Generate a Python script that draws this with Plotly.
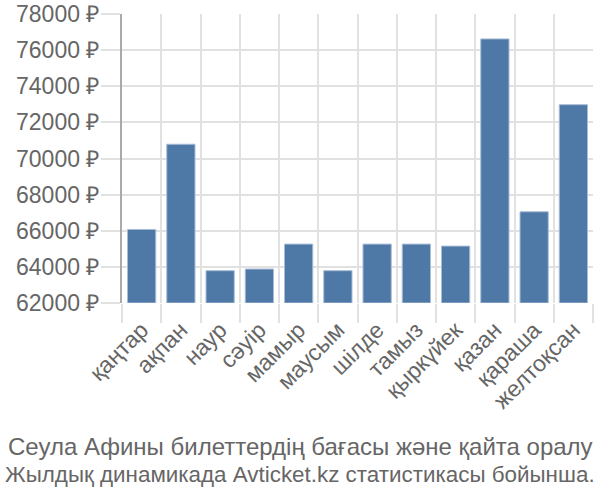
import plotly.graph_objects as go

months = ["қаңтар", "ақпан", "наур", "сәуір", "мамыр", "маусым", "шілде",
          "тамыз", "қыркүйек", "қазан", "қараша", "желтоқсан"]
prices = [66070, 70790, 63790, 63880, 65260, 63790, 65260, 65260, 65150,
          76620, 67050, 72980]
y_ticks = [62000, 64000, 66000, 68000, 70000, 72000, 74000, 76000, 78000]
y_tick_text = [f"{v} ₽" for v in y_ticks]
title_lines = ["Сеула Афины билеттердің бағасы және қайта оралу",
               "Жылдық динамикада Avticket.kz статистикасы бойынша."]

FONT = "Liberation Sans, Arial, sans-serif"
GRID = "#e1e1e1"
TXT = "#666666"

ML, MR, MT, MB = 122, 7, 14, 197
plot_h = 500 - MT - MB

fig = go.Figure()
fig.add_trace(go.Bar(
    x=months, y=[p - y_ticks[0] for p in prices], base=y_ticks[0],
    marker=dict(color="#4e79a7", line=dict(color="#a9bdd6", width=1)),
    hoverinfo="skip",
))

title_y_px = [446, 474]
title_sizes = [24, 22.4]
annotations = [dict(
    text=line, xref="paper", yref="paper",
    x=0.5, xanchor="center", y=-(py - (500 - MB)) / plot_h, yanchor="middle",
    xshift=-(ML - MR) / 2, showarrow=False,
    font=dict(size=sz, color=TXT, family=FONT),
) for line, py, sz in zip(title_lines, title_y_px, title_sizes)]

fig.update_layout(
    width=600, height=500,
    margin=dict(l=ML, r=MR, t=MT, b=MB),
    paper_bgcolor="white", plot_bgcolor="white",
    bargap=0.28,
    showlegend=False,
    font=dict(family=FONT, color=TXT, size=22),
    xaxis=dict(
        type="category", tickson="boundaries", ticks="outside", ticklen=19,
        tickcolor=GRID, tickwidth=2, showgrid=True, gridcolor=GRID, gridwidth=2,
        tickangle=-45, tickfont=dict(size=23, color=TXT, family=FONT),
        ticklabelstandoff=8,
        showline=False, zeroline=False, range=[-0.5, 11.5], automargin=False,
    ),
    yaxis=dict(
        range=[y_ticks[0], y_ticks[-1]], tickvals=y_ticks, ticktext=y_tick_text,
        ticks="outside", ticklen=19, tickcolor=GRID, tickwidth=2,
        showgrid=True, gridcolor=GRID, gridwidth=2,
        showline=True, linecolor="#aaaaaa", linewidth=2,
        zeroline=False, tickfont=dict(size=23, color=TXT, family=FONT),
        ticklabelstandoff=-3,
        automargin=False,
    ),
    annotations=annotations,
)

fig.write_html("out.html")
